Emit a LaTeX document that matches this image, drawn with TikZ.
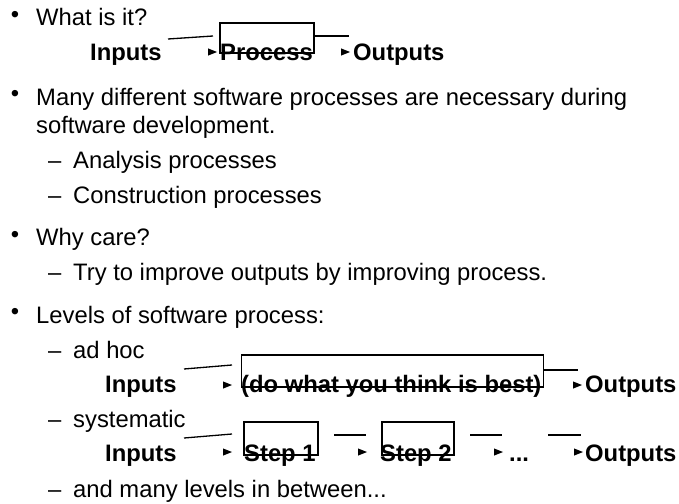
\documentclass[tikz,border=0pt]{standalone}
\usepackage{fontspec}
\setmainfont{Liberation Sans}
\begin{document}
\begin{tikzpicture}[x=1pt,y=-1pt,
  txt/.style={anchor=base west,inner sep=0pt,font=\fontsize{23.8}{28}\selectfont},
  btxt/.style={txt,font=\fontsize{23.8}{28}\selectfont\bfseries},
  bul/.style={anchor=center,inner sep=0pt,font=\fontsize{23.8}{28}\selectfont},
  boxsty/.style={draw,line width=1.3pt,inner sep=0pt},
  ln/.style={line width=1.3pt},
  ahead/.pic={\fill (0,0) -- (-9,-3.6) -- (-9,3.6) -- cycle;}]
\useasboundingbox (0,0) rectangle (679,503);
% bullets and list text
\node[bul] (b1) at (15,17) {•};
\node[txt] (t1) at (36,26) {What is it?};
\node[bul] (b2) at (15,96) {•};
\node[txt] (t2) at (36,105) {Many different software processes are necessary during};
\node[txt] (t2b) at (36,133) {software development.};
\node[txt] (d1) at (48,168) {–};
\node[txt] (t3) at (73,168) {Analysis processes};
\node[txt] (d2) at (48,203) {–};
\node[txt] (t4) at (73,203) {Construction processes};
\node[bul] (b3) at (15,236.5) {•};
\node[txt] (t5) at (36,245.5) {Why care?};
\node[txt] (d3) at (48,280.5) {–};
\node[txt] (t6) at (73,280.5) {Try to improve outputs by improving process.};
\node[bul] (b4) at (15,314) {•};
\node[txt] (t7) at (36,323) {Levels of software process:};
\node[txt] (d4) at (48,358) {–};
\node[txt] (t8) at (73,358) {ad hoc};
\node[txt] (d5) at (48,427) {–};
\node[txt] (t9) at (73,427) {systematic};
\node[txt] (d6) at (48,497) {–};
\node[txt] (t10) at (73,497) {and many levels in between...};
% flow 1
\node[btxt] (in1) at (90,60) {Inputs};
\node[btxt] (pr1) at (220,60) {Process};
\node[btxt] (out1) at (353,60) {Outputs};
\node[boxsty,minimum width=94pt,minimum height=30pt] (box1) at (267,38) {};
\coordinate (a1s) at (168,39); \coordinate (a1e) at (213,36);
\coordinate (a2s) at (314,36); \coordinate (a2e) at (349,36);
\draw[ln] (a1s) -- (a1e);
\draw[ln] (a2s) -- (a2e);
\pic at (217,52) {ahead};
\pic at (350,52) {ahead};
% flow 2
\node[btxt] (in2) at (105,392) {Inputs};
\node[btxt] (pr2) at (241,392) {(do what you think is best)};
\node[btxt] (out2) at (585,392) {Outputs};
\node[boxsty,minimum width=302pt,minimum height=32pt] (box2) at (392.5,371) {};
\coordinate (b1s) at (184,369); \coordinate (b1e) at (232,365);
\coordinate (b2s) at (543.5,370); \coordinate (b2e) at (578,370);
\draw[ln] (b1s) -- (b1e);
\draw[ln] (b2s) -- (b2e);
\pic at (232,385) {ahead};
\pic at (582,385) {ahead};
% flow 3
\node[btxt] (in3) at (105,461) {Inputs};
\node[btxt] (s1) at (244,461) {Step 1};
\node[btxt] (s2) at (380,461) {Step 2};
\node[btxt] (dots) at (509,461) {...};
\node[btxt] (out3) at (585,461) {Outputs};
\node[boxsty,minimum width=74pt,minimum height=33pt] (box3) at (281,438.5) {};
\node[boxsty,minimum width=72pt,minimum height=33pt] (box4) at (418,438.5) {};
\coordinate (c1s) at (184,438); \coordinate (c1e) at (232,434);
\coordinate (c2s) at (334,435); \coordinate (c2e) at (366,435);
\coordinate (c3s) at (470,435); \coordinate (c3e) at (502,435);
\coordinate (c4s) at (548,435); \coordinate (c4e) at (581,435);
\draw[ln] (c1s) -- (c1e);
\draw[ln] (c2s) -- (c2e);
\draw[ln] (c3s) -- (c3e);
\draw[ln] (c4s) -- (c4e);
\pic at (232,452) {ahead};
\pic at (367,452) {ahead};
\pic at (503,452) {ahead};
\pic at (583,452) {ahead};
\end{tikzpicture}
\end{document}
